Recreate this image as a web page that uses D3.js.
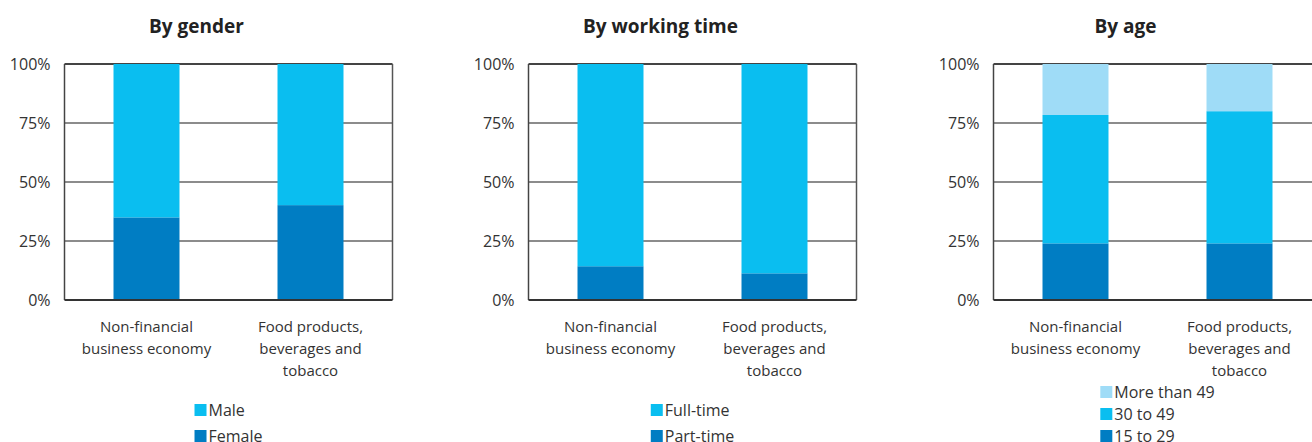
<!DOCTYPE html>
<html>
<head>
<meta charset="utf-8">
<script src="https://cdn.jsdelivr.net/npm/d3@7"></script>
<style>
  html, body { margin: 0; padding: 0; background: #fff; }
  svg { display: block; font-family: "Open Sans", "Noto Sans", sans-serif; }
</style>
</head>
<body>
<svg id="chart" width="1312" height="442"></svg>
<script>
// Categories shared by all three panels
const categories = ["Non-financial business economy", "Food products, beverages and tobacco"];
const categoryLines = [["Non-financial", "business economy"], ["Food products,", "beverages and", "tobacco"]];

// Share of persons employed (%)
const female = [35, 40.2];
const male = [65, 59.8];
const partTime = [14.3, 11.3];
const fullTime = [85.7, 88.7];
const age15to29 = [24, 24];
const age30to49 = [54.4, 56];
const ageOver49 = [21.6, 20];

const yTicks = [0, 25, 50, 75, 100];
const tickLabels = ["0%", "25%", "50%", "75%", "100%"];

const colDark = "#007dc3", colMid = "#0abef0", colLight = "#9fdcf7";

const panels = [
  { title: "By gender", left: 64.5, legendTop: 410, legendStep: 26,
    series: [ { name: "Female", values: female, color: colDark },
              { name: "Male", values: male, color: colMid } ] },
  { title: "By working time", left: 528.5, legendTop: 410, legendStep: 26,
    series: [ { name: "Part-time", values: partTime, color: colDark },
              { name: "Full-time", values: fullTime, color: colMid } ] },
  { title: "By age", left: 993.5, legendTop: 392, legendStep: 22,
    series: [ { name: "15 to 29", values: age15to29, color: colDark },
              { name: "30 to 49", values: age30to49, color: colMid },
              { name: "More than 49", values: ageOver49, color: colLight } ] }
];

const plotW = 328, plotTop = 64, plotBottom = 300;
const svg = d3.select("#chart");

panels.forEach(p => {
  const g = svg.append("g");
  const x = d3.scaleBand().domain(categories).range([p.left, p.left + plotW]).paddingInner(0.5976).paddingOuter(0.2988);
  const y = d3.scaleLinear().domain([0, 100]).range([plotBottom, plotTop]);

  // Title
  g.append("text")
    .attr("x", p.left + 132).attr("y", 33)
    .attr("text-anchor", "middle")
    .attr("font-size", 19).attr("font-weight", 700).attr("fill", "#222")
    .text(p.title);

  // Gridlines
  g.selectAll(".grid").data(yTicks.filter(t => t > 0 && t < 100)).join("line")
    .attr("x1", p.left).attr("x2", p.left + plotW)
    .attr("y1", d => y(d)).attr("y2", d => y(d))
    .attr("stroke", "#666").attr("stroke-width", 1.5);

  // Frame
  g.append("line").attr("x1", p.left).attr("x2", p.left + plotW).attr("y1", y(100)).attr("y2", y(100))
    .attr("stroke", "#444").attr("stroke-width", 2);
  g.append("line").attr("x1", p.left).attr("x2", p.left).attr("y1", y(100)).attr("y2", y(0))
    .attr("stroke", "#444").attr("stroke-width", 1.5);
  g.append("line").attr("x1", p.left + plotW).attr("x2", p.left + plotW).attr("y1", y(100)).attr("y2", y(0))
    .attr("stroke", "#555").attr("stroke-width", 1.5);

  // Stacked bars
  const rows = categories.map((c, i) => {
    const r = { cat: c };
    p.series.forEach(s => r[s.name] = s.values[i]);
    return r;
  });
  const stacked = d3.stack().keys(p.series.map(s => s.name))(rows);
  stacked.forEach((layer, li) => {
    g.selectAll(null).data(layer).join("rect")
      .attr("x", d => x(d.data.cat))
      .attr("width", x.bandwidth())
      .attr("y", d => y(d[1]))
      .attr("height", d => y(d[0]) - y(d[1]))
      .attr("fill", p.series[li].color);
  });

  // Bottom axis line
  g.append("line").attr("x1", p.left).attr("x2", p.left + plotW).attr("y1", y(0)).attr("y2", y(0))
    .attr("stroke", "#333").attr("stroke-width", 2);

  // Y tick labels
  g.selectAll(".tick").data(yTicks).join("text")
    .attr("x", p.left - 14).attr("y", d => y(d) + 6)
    .attr("text-anchor", "end").attr("font-size", 16).attr("fill", "#333")
    .text((d, i) => tickLabels[i]);

  // Category labels
  categories.forEach((c, i) => {
    const t = g.append("text")
      .attr("text-anchor", "middle").attr("font-size", 15).attr("fill", "#333");
    categoryLines[i].forEach((line, k) => {
      t.append("tspan").attr("x", x(c) + x.bandwidth() / 2).attr("y", 332 + k * 22).text(line);
    });
  });

  // Legend, top item is the last stacked series
  const legend = g.append("g");
  const items = p.series.slice().reverse();
  items.forEach((s, k) => {
    const cy = p.legendTop + k * p.legendStep;
    legend.append("rect").attr("x", 0).attr("y", cy - 6).attr("width", 12).attr("height", 12).attr("fill", s.color);
    legend.append("text").attr("x", 14).attr("y", cy + 5.5)
      .attr("font-size", 16).attr("fill", "#333").text(s.name);
  });
  const bb = legend.node().getBBox();
  legend.attr("transform", `translate(${p.left + plotW / 2 - bb.width / 2},0)`);
});
</script>
</body>
</html>
